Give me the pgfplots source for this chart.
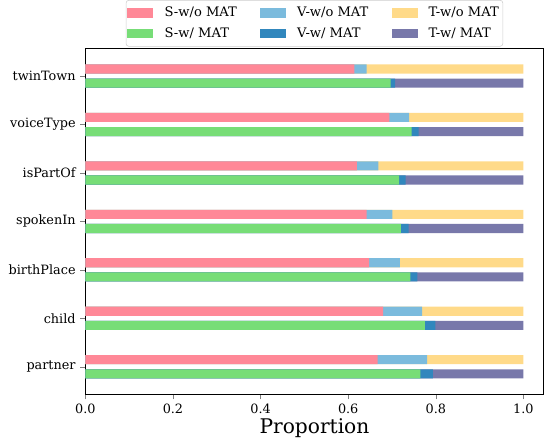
\documentclass[border=0pt]{standalone}
\usepackage{fontspec}
\setmainfont{DejaVu Serif}
\usepackage{pgfplots}
\pgfplotsset{compat=1.18}

\definecolor{swo}{RGB}{255,136,151}
\definecolor{sw}{RGB}{119,221,119}
\definecolor{vwo}{RGB}{123,187,221}
\definecolor{vw}{RGB}{49,135,189}
\definecolor{two}{RGB}{255,218,137}
\definecolor{tw}{RGB}{120,120,170}

\begin{document}
\begin{tikzpicture}
\begin{axis}[
  width=336pt, height=254pt,
  scale only axis,
  xbar,
  bar width=0.1875,
  xmin=0, xmax=1.046,
  ymin=-0.57, ymax=6.58,
  ytick={0,...,6},
  yticklabels={partner,child,birthPlace,spokenIn,isPartOf,voiceType,twinTown},
  xtick={0,0.2,0.4,0.6,0.8,1.0},
  xticklabel style={/pgf/number format/.cd,fixed,fixed zerofill,precision=1},
  /pgf/number format/assume math mode=true,
  tick label style={font=\fontsize{9.4}{11}\selectfont},
  tick align=outside,
  tick pos=left,
  major tick length=3.6pt,
  axis line style={black, line width=0.6pt},
  xlabel={Proportion},
  xlabel style={font=\fontsize{14.8}{17}\selectfont, yshift=3pt},
  legend columns=3,
  legend cell align=left,
  legend style={at={(0.5,1.004)}, anchor=south, draw=black!20, rounded corners=2pt,
    font=\fontsize{9.6}{11}\selectfont,
    /tikz/every even column/.append style={column sep=15pt},
    row sep=2.5pt, inner xsep=1pt, inner ysep=3pt},
  legend image code/.code={\draw[#1,draw=none,sharp corners] (0pt,-3.4pt) rectangle (19pt,3.4pt);
    \path (25pt,0pt);},
]
% legend entries (row-wise order)
\addlegendimage{fill=swo}\addlegendentry{S-w/o MAT}
\addlegendimage{fill=vwo}\addlegendentry{V-w/o MAT}
\addlegendimage{fill=two}\addlegendentry{T-w/o MAT}
\addlegendimage{fill=sw}\addlegendentry{S-w/ MAT}
\addlegendimage{fill=vw}\addlegendentry{V-w/ MAT}
\addlegendimage{fill=tw}\addlegendentry{T-w/ MAT}

% cumulative bar ends, w/o MAT (upper bars)
\addplot[forget plot, bar shift=0.146, fill=two, draw=none] coordinates {
  (1.0,0) (1.0,1) (1.0,2) (1.0,3) (1.0,4) (1.0,5) (1.0,6)};
\addplot[forget plot, bar shift=0.146, fill=vwo, draw=none] coordinates {
  (0.780,0) (0.769,1) (0.718,2) (0.701,3) (0.669,4) (0.739,5) (0.642,6)};
\addplot[forget plot, bar shift=0.146, fill=swo, draw=none] coordinates {
  (0.667,0) (0.680,1) (0.648,2) (0.642,3) (0.620,4) (0.694,5) (0.614,6)};

% cumulative bar ends, w/ MAT (lower bars)
\addplot[forget plot, bar shift=-0.146, fill=tw, draw=none] coordinates {
  (1.0,0) (1.0,1) (1.0,2) (1.0,3) (1.0,4) (1.0,5) (1.0,6)};
\addplot[forget plot, bar shift=-0.146, fill=vw, draw=none] coordinates {
  (0.793,0) (0.799,1) (0.758,2) (0.738,3) (0.731,4) (0.761,5) (0.707,6)};
\addplot[forget plot, bar shift=-0.146, fill=sw, draw=none] coordinates {
  (0.765,0) (0.775,1) (0.742,2) (0.720,3) (0.716,4) (0.745,5) (0.697,6)};
\end{axis}
% white margin on the left, as in the reference
\path ([xshift=-3pt]current bounding box.south west);
\end{tikzpicture}
\end{document}
